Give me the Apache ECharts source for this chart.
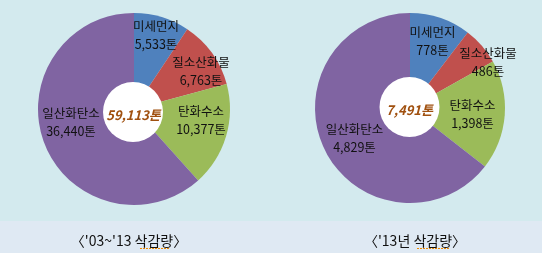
<!DOCTYPE html>
<html>
<head>
<meta charset="utf-8">
<script src="https://cdn.jsdelivr.net/npm/echarts@6/dist/echarts.min.js"></script>
<style>
html,body{margin:0;padding:0;background:#d3eaee;}
#c{width:542px;height:253px;}
</style>
</head>
<body>
<div id="c"></div>
<script>
const categories = ['미세먼지', '질소산화물', '탄화수소', '일산화탄소'];
const valuesTotal = [5533, 6763, 10377, 36440];
const values2013 = [778, 486, 1398, 4829];
const captions = ["〈'03~'13 삭감량〉", "〈'13년 삭감량〉"];
const unit = '톤';

const colors = ['#4f81bd', '#c0504d', '#9bbb59', '#8064a2'];
const labelPosLeft = [[156, 35.5], [201, 71], [201, 120], [71, 122.5]];
const labelPosRight = [[432.5, 41.5], [488, 62], [472.5, 114], [354.5, 138.5]];

function fmt(n) { return String(n).replace(/\B(?=(\d{3})+(?!\d))/g, ','); }
function sum(a) { return a.reduce((s, v) => s + v, 0); }

const chart = echarts.init(document.getElementById('c'), null, {renderer: 'canvas'});

function pieSeries(vals, center, r, pos) {
  return {
    type: 'pie',
    center: center,
    radius: [0, r],
    startAngle: 90,
    clockwise: true,
    silent: true,
    animation: false,
    data: categories.map((c, i) => ({name: c, value: vals[i], itemStyle: {color: colors[i]}})),
    itemStyle: {borderWidth: 0},
    label: {
      show: true,
      position: 'inside',
      formatter: p => p.name + '\n' + fmt(p.value) + unit,
      color: '#111',
      fontFamily: '"Noto Sans CJK KR", sans-serif',
      fontSize: 12.5,
      lineHeight: 18
    },
    labelLine: {show: false},
    labelLayout: function (params) {
      const p = pos[params.dataIndex];
      return {x: p[0], y: p[1], align: 'center', verticalAlign: 'middle'};
    }
  };
}

chart.setOption({
  backgroundColor: '#d3eaee',
  animation: false,
  series: [
    pieSeries(valuesTotal, [134, 109], 96, labelPosLeft),
    pieSeries(values2013, [410, 108], 95, labelPosRight)
  ],
  graphic: [
    {type: 'rect', shape: {x: 0, y: 221, width: 542, height: 32}, style: {fill: '#dfe9f3'}, z: -1},
    {type: 'circle', shape: {cx: 133, cy: 112, r: 30}, style: {fill: '#ffffff'}, z: 10},
    {type: 'circle', shape: {cx: 409.5, cy: 107, r: 30}, style: {fill: '#ffffff'}, z: 10},
    {type: 'text', x: 133.5, y: 115, z: 11, style: {text: fmt(sum(valuesTotal)) + unit, textAlign: 'center', textVerticalAlign: 'middle', fill: '#a0500f', font: 'italic bold 13px "Noto Sans CJK KR", sans-serif'}},
    {type: 'text', x: 409.5, y: 110, z: 11, style: {text: fmt(sum(values2013)) + unit, textAlign: 'center', textVerticalAlign: 'middle', fill: '#a0500f', font: 'italic bold 13px "Noto Sans CJK KR", sans-serif'}},
    {type: 'text', x: 129, y: 241, z: 11, style: {text: captions[0], textAlign: 'center', textVerticalAlign: 'middle', fill: '#111', font: '14px "Noto Sans CJK KR", sans-serif'}},
    {type: 'text', x: 415, y: 241, z: 11, style: {text: captions[1], textAlign: 'center', textVerticalAlign: 'middle', fill: '#111', font: '14px "Noto Sans CJK KR", sans-serif'}},
    {type: 'line', shape: {x1: 140, y1: 248.5, x2: 170, y2: 248.5}, style: {stroke: '#f08a00', lineWidth: 1, lineDash: [2, 1]}, z: 12},
    {type: 'line', shape: {x1: 417, y1: 248.5, x2: 450, y2: 248.5}, style: {stroke: '#f08a00', lineWidth: 1, lineDash: [2, 1]}, z: 12}
  ]
});
</script>
</body>
</html>
